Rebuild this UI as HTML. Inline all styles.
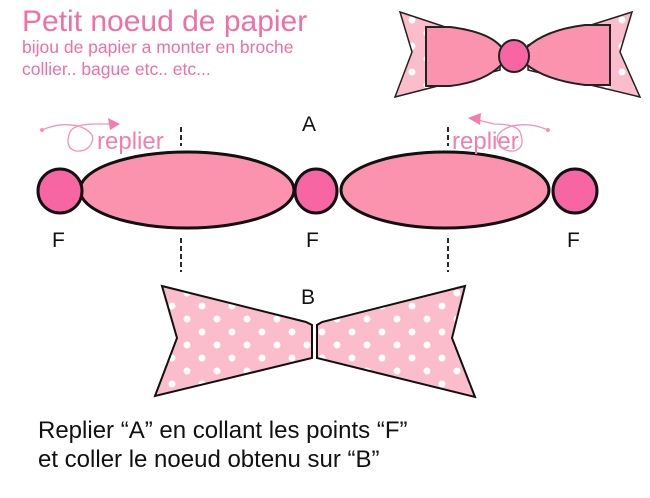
<!DOCTYPE html>
<html><head><style>
html,body{margin:0;padding:0;background:#fff;}
svg{display:block;font-family:"Liberation Sans",sans-serif;}
</style></head><body>
<svg width="650" height="498" viewBox="0 0 650 498" xmlns="http://www.w3.org/2000/svg">
<defs>
<pattern id="dots" width="30" height="26" patternUnits="userSpaceOnUse">
<rect width="30" height="26" fill="#fbbccb"/>
<circle cx="7" cy="7" r="3.5" fill="#fff"/>
<circle cx="22" cy="20" r="3.5" fill="#fff"/>
</pattern>
</defs>
<text x="22" y="31" font-size="30" fill="#f06fa5">Petit noeud de papier</text>
<text x="22" y="53" font-size="17.5" fill="#f06fa5">bijou de papier a monter en broche</text>
<text x="22" y="75" font-size="17.5" fill="#f06fa5">collier.. bague etc.. etc...</text>

<!-- top-right bow -->
<polygon points="400,12 500,45 500,70 395,97 412,52" fill="url(#dots)" stroke="#222" stroke-width="1.5"/>
<polygon points="632,12 528,45 528,70 640,97 620,52" fill="url(#dots)" stroke="#222" stroke-width="1.5"/>
<path d="M426,27 L450,27 Q490,32 502,48 L502,64 Q485,82 450,86 L426,86 Z" fill="#fb92ae" stroke="#222" stroke-width="2"/>
<path d="M610,25 L585,25 Q545,30 526,48 L526,64 Q545,80 585,85 L610,85 Z" fill="#fb92ae" stroke="#222" stroke-width="2"/>
<ellipse cx="514" cy="56" rx="15" ry="16" fill="#f765a3" stroke="#222" stroke-width="2"/>

<!-- A -->
<text x="302" y="131" font-size="21" fill="#111">A</text>
<ellipse cx="187" cy="190" rx="107" ry="38" fill="#fb92ae" stroke="#111" stroke-width="3"/>
<ellipse cx="445" cy="190" rx="104" ry="38" fill="#fb92ae" stroke="#111" stroke-width="3"/>
<ellipse cx="60" cy="191" rx="22" ry="22" fill="#f765a3" stroke="#111" stroke-width="3"/>
<ellipse cx="316" cy="191" rx="21" ry="22" fill="#f765a3" stroke="#111" stroke-width="3"/>
<ellipse cx="575" cy="191" rx="22" ry="22" fill="#f765a3" stroke="#111" stroke-width="3"/>
<text x="52" y="247" font-size="21" fill="#111">F</text>
<text x="306" y="247" font-size="21" fill="#111">F</text>
<text x="567" y="247" font-size="21" fill="#111">F</text>

<!-- dashed lines -->
<g stroke="#111" stroke-width="1.8" stroke-dasharray="5,3">
<line x1="181" y1="127" x2="181" y2="146"/>
<line x1="181" y1="238" x2="181" y2="272"/>
<line x1="448" y1="127" x2="448" y2="146"/>
<line x1="448" y1="238" x2="448" y2="272"/>
</g>

<!-- replier -->
<text x="97" y="149" font-size="24" fill="#f07fb0">replier</text>
<text x="452" y="149" font-size="24" fill="#f07fb0">replier</text>
<g fill="none" stroke="#f590bd" stroke-width="1.3">
<path d="M42,130 Q60,122 78,126 Q96,132 92,142 Q88,152 76,151 Q64,148 70,132 Q74,124 96,124 L118,124"/>
<path d="M548,130 Q530,122 512,126 Q494,132 498,142 Q502,152 514,151 Q526,148 520,132 Q516,124 494,124 L470,118"/>
</g>
<polygon points="120,124 108,118 110,130" fill="#f07fb0"/>
<polygon points="468,118 481,113 480,125" fill="#f07fb0"/>
<circle cx="42" cy="130" r="2" fill="#f590bd"/>
<circle cx="548" cy="130" r="2" fill="#f590bd"/>

<!-- B -->
<polygon points="162,286 306,322 312,325 312,358 155,396 177,338" fill="url(#dots)" stroke="#111" stroke-width="2"/>
<polygon points="465,286 322,322 317,325 317,358 475,397 452,338" fill="url(#dots)" stroke="#111" stroke-width="2"/>
<text x="301" y="304" font-size="21" fill="#111">B</text>

<text x="38" y="438" font-size="24" fill="#111">Replier “A” en collant les points “F”</text>
<text x="38" y="467" font-size="24" fill="#111">et coller le noeud obtenu sur “B”</text>
</svg>
</body></html>
